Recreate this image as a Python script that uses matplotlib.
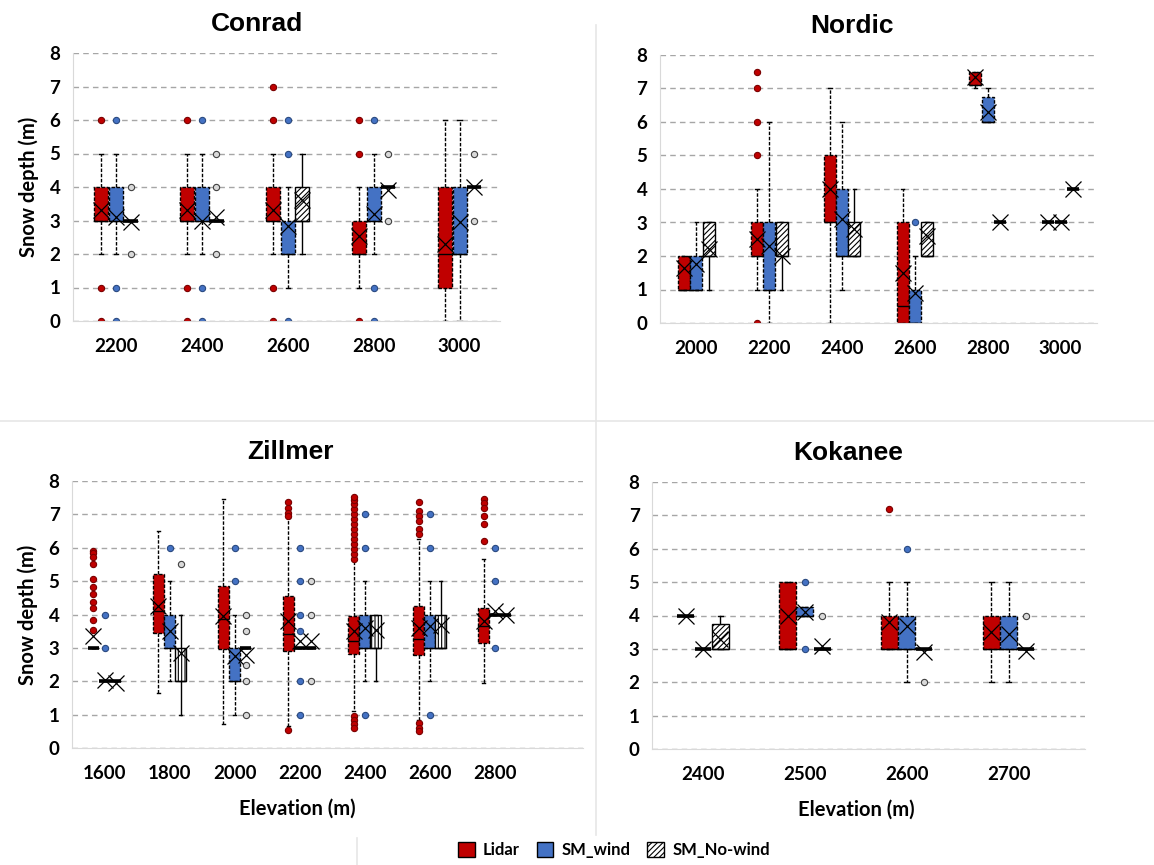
import matplotlib.pyplot as plt
from matplotlib.patches import Patch
from matplotlib.lines import Line2D

plt.rcParams['font.family'] = ['Lato', 'DejaVu Sans']
plt.rcParams['hatch.linewidth'] = 0.8

series_names = ['Lidar', 'SM_wind', 'SM_No-wind']
series_colors = ['#C00000', '#4472C4', 'white']
flier_edges = ['#7a0000', '#2a4a80', '#404040']
flier_faces = ['#C00000', '#4472C4', '#d9d9d9']

# one box per elevation: (whislo, q1, med, q3, whishi, mean, fliers), None = no box
conrad_elev = [2200, 2400, 2600, 2800, 3000]
conrad_lidar = [(2, 3, 3, 4, 5, 3.3, [6, 1, 0]),
                (2, 3, 3, 4, 5, 3.3, [6, 1, 0]),
                (2, 3, 3, 4, 5, 3.3, [7, 6, 1, 0]),
                (1, 2, 2, 3, 4, 2.55, [6, 5, 0]),
                (0, 1, 2, 4, 6, 2.3, [])]
conrad_wind = [(2, 3, 3, 4, 5, 3.1, [6, 1, 0]),
               (2, 3, 3, 4, 5, 3.0, [6, 1, 0]),
               (1, 2, 2, 3, 4, 2.85, [6, 5, 0]),
               (2, 3, 3, 4, 5, 3.2, [6, 1, 0]),
               (0, 2, 2, 4, 6, 2.95, [])]
conrad_nowind = [(3, 3, 3, 3, 3, 2.95, [4, 2]),
                 (3, 3, 3, 3, 3, 3.1, [5, 4, 2]),
                 (2, 3, 3, 4, 5, 3.6, []),
                 (4, 4, 4, 4, 4, 3.9, [5, 3]),
                 (4, 4, 4, 4, 4, 4.0, [5, 3])]

nordic_elev = [2000, 2200, 2400, 2600, 2800, 3000]
nordic_lidar = [(1, 1, 1, 2, 2, 1.65, []),
                (1, 2, 2, 3, 4, 2.5, [7.5, 7, 6, 5, 0]),
                (0, 3, 3, 5, 7, 4.0, []),
                (0, 0, 0.5, 3, 4, 1.5, []),
                (7.0, 7.1, 7.1, 7.5, 7.5, 7.35, []),
                (3, 3, 3, 3, 3, 3.0, [])]
nordic_wind = [(1, 1, 1, 2, 3, 1.75, []),
               (0, 1, 1, 3, 6, 2.3, []),
               (1, 2, 2, 4, 6, 3.1, []),
               (0, 0, 0, 1, 2, 0.9, [3]),
               (6, 6, 6, 6.75, 7, 6.3, []),
               (3, 3, 3, 3, 3, 3.0, [])]
nordic_nowind = [(1, 2, 2, 3, 3, 2.2, []),
                 (1, 2, 2, 3, 3, 2.0, []),
                 (2, 2, 2, 3, 4, 2.8, []),
                 (2, 2, 2, 3, 3, 2.6, []),
                 (3, 3, 3, 3, 3, 3.0, []),
                 (4, 4, 4, 4, 4, 4.0, [])]

zillmer_elev = [1600, 1800, 2000, 2200, 2400, 2600, 2800]
zillmer_lidar = [(3, 3, 3, 3, 3, 3.35, [5.9, 5.85, 5.73, 5.5, 5.05, 4.83, 4.6, 4.38, 4.18, 3.83, 3.55]),
                 (1.65, 3.45, 4.1, 5.2, 6.5, 4.25, []),
                 (0.72, 2.97, 3.88, 4.84, 7.46, 3.95, []),
                 (0.66, 2.92, 3.43, 4.55, 6.9, 3.8, [7.36, 7.2, 7.05, 6.95, 0.55]),
                 (1.1, 2.83, 3.22, 3.97, 5.6, 3.5,
                  [5.67, 5.8, 5.95, 6.1, 6.25, 6.4, 6.55, 6.7, 6.85, 7.0, 7.15, 7.3, 7.42, 7.52,
                   0.96, 0.84, 0.72, 0.6]),
                 (0.85, 2.8, 3.28, 4.24, 6.25, 3.6, [7.38, 7.1, 6.95, 6.8, 6.55, 6.4, 0.75, 0.6, 0.5]),
                 (1.95, 3.15, 3.65, 4.18, 5.65, 3.8, [7.45, 7.35, 7.2, 6.95, 6.7, 6.2])]
zillmer_wind = [(2, 2, 2, 2, 2, 2.05, [4, 3]),
                (2, 3, 3, 4, 5, 3.5, [6]),
                (1, 2, 2, 3, 4, 2.75, [6, 5]),
                (3, 3, 3, 3, 3, 3.2, [6, 5, 4, 3.5, 2, 1]),
                (2, 3, 3, 4, 5, 3.6, [7, 6, 1]),
                (2, 3, 3, 4, 5, 3.65, [7, 6, 1]),
                (4, 4, 4, 4, 4, 4.1, [6, 5, 3])]
zillmer_nowind = [(2, 2, 2, 2, 2, 1.95, []),
                  (1, 2, 2, 3, 4, 2.85, [5.5]),
                  (3, 3, 3, 3, 3, 2.8, [4, 3.5, 2.5, 2, 1]),
                  (3, 3, 3, 3, 3, 3.2, [5, 4, 2]),
                  (2, 3, 3, 4, 4, 3.55, []),
                  (3, 3, 3, 4, 5, 3.7, []),
                  (4, 4, 4, 4, 4, 4.0, [])]

kokanee_elev = [2400, 2500, 2600, 2700]
kokanee_lidar = [(4, 4, 4, 4, 4, 4.0, []),
                 (3, 3, 3, 5, 5, 4.0, []),
                 (3, 3, 3, 4, 5, 3.8, [7.2]),
                 (2, 3, 3, 4, 5, 3.5, [])]
kokanee_wind = [(3, 3, 3, 3, 3, 3.0, []),
                (4, 4, 4, 4.25, 4.25, 4.1, [5, 3]),
                (2, 3, 3, 4, 5, 3.7, [6]),
                (2, 3, 3, 4, 5, 3.45, [])]
kokanee_nowind = [(3, 3, 3, 3.75, 4, 3.3, []),
                  (3, 3, 3, 3, 3, 3.1, [4]),
                  (3, 3, 3, 3, 3, 2.9, [2]),
                  (3, 3, 3, 3, 3, 2.95, [4])]

offsets = [-0.17, 0, 0.17]
box_w = 0.165
bold = dict(fontweight='bold')


def draw_panel(ax, title, elev, series, hatch, xmax, title_x, ylabel=False, xlabel_x=None):
    for k, data in enumerate(series):
        stats, pos = [], []
        for i, b in enumerate(data):
            if b is None:
                continue
            lo, q1, med, q3, hi, mean, fl = b
            stats.append(dict(whislo=lo, q1=q1, med=med, q3=q3, whishi=hi, mean=mean, fliers=fl))
            pos.append(i + offsets[k])
        ls = '-' if k == 2 else (0, (2.5, 1.2))
        art = ax.bxp(stats, positions=pos, widths=box_w, patch_artist=True,
                     showmeans=True, manage_ticks=False, capwidths=box_w * 0.3,
                     boxprops=dict(facecolor=series_colors[k], edgecolor='black',
                                   linewidth=1, linestyle=ls),
                     whiskerprops=dict(color='black', linewidth=1, linestyle=ls),
                     capprops=dict(color='black', linewidth=1),
                     medianprops=dict(color='black', linewidth=1),
                     meanprops=dict(marker='x', markeredgecolor='black', markersize=11,
                                    markeredgewidth=0.9),
                     flierprops=dict(marker='o', markerfacecolor=flier_faces[k],
                                     markeredgecolor=flier_edges[k], markersize=4.5,
                                     markeredgewidth=0.8))
        for st, bx in zip(stats, art['boxes']):
            if k == 2:
                bx.set_hatch(hatch)
            if st['q1'] == st['q3']:
                bx.set_linewidth(2.6)
                bx.set_linestyle('-')
    ax.set_xlim(-0.5, xmax)
    ax.set_ylim(0, 8)
    ax.set_yticks(range(0, 9))
    ax.set_xticks(range(len(elev)))
    ax.set_xticklabels([str(e) for e in elev], fontsize=13.5, **bold)
    for t in ax.get_yticklabels():
        t.set_fontsize(13.5)
        t.set_fontweight('bold')
    ax.tick_params(length=0)
    ax.tick_params(axis='x', pad=12)
    ax.tick_params(axis='y', pad=9)
    ax.grid(axis='y', color='#a6a6a6', linestyle=(0, (4, 3)), linewidth=1)
    ax.set_axisbelow(True)
    for s in ['top', 'right']:
        ax.spines[s].set_visible(False)
    for s in ['left', 'bottom']:
        ax.spines[s].set_color('#d9d9d9')
    ax.set_title(title, fontsize=19, fontweight='bold', family=['Liberation Sans'],
                 pad=16, x=title_x)
    if ylabel:
        ax.set_ylabel('Snow depth (m)', fontsize=14.5, labelpad=8, **bold)
    if xlabel_x is not None:
        ax.set_xlabel('Elevation (m)', fontsize=14.5, labelpad=12, **bold)
        ax.xaxis.label.set_x(xlabel_x)


fig = plt.figure(figsize=(11.54, 8.65), dpi=100)
W, H = 1154, 865


def box(l, r, t, b):
    return [l / W, 1 - b / H, (r - l) / W, (b - t) / H]


ax1 = fig.add_axes(box(73, 500, 53, 321))
ax2 = fig.add_axes(box(660, 1097, 55, 323))
ax3 = fig.add_axes(box(72, 583, 481, 748))
ax4 = fig.add_axes(box(652, 1085, 482, 749))

draw_panel(ax1, 'Conrad', conrad_elev, [conrad_lidar, conrad_wind, conrad_nowind],
           '//////', 4.47, 0.43, ylabel=True)
draw_panel(ax2, 'Nordic', nordic_elev, [nordic_lidar, nordic_wind, nordic_nowind],
           '//////', 5.5, 0.44)
draw_panel(ax3, 'Zillmer', zillmer_elev, [zillmer_lidar, zillmer_wind, zillmer_nowind],
           '|||||', 7.36, 0.427, ylabel=True, xlabel_x=0.44)
draw_panel(ax4, 'Kokanee', kokanee_elev, [kokanee_lidar, kokanee_wind, kokanee_nowind],
           '//////', 3.75, 0.453, xlabel_x=0.473)

# faint separators between the panels
sep = '#e6e6e6'
fig.add_artist(Line2D([0, 1], [1 - 421 / H, 1 - 421 / H], color=sep, linewidth=1.2))
fig.add_artist(Line2D([596 / W, 596 / W], [1 - 25 / H, 1 - 835 / H], color=sep, linewidth=1.2))
fig.add_artist(Line2D([357 / W, 357 / W], [1 - 838 / H, 0], color=sep, linewidth=1.2))

handles = [Patch(facecolor=series_colors[k], edgecolor='black', linewidth=1,
                 hatch='//////' if k == 2 else None, label=series_names[k]) for k in range(3)]
fig.legend(handles=handles, loc='center', bbox_to_anchor=(614 / W, 1 - 850 / H), ncol=3,
           frameon=False, handlelength=1.0, handleheight=1.0, handletextpad=0.5,
           columnspacing=1.0, prop=dict(weight='bold', size=12))

fig.savefig('out.png', dpi=100, facecolor='white')
